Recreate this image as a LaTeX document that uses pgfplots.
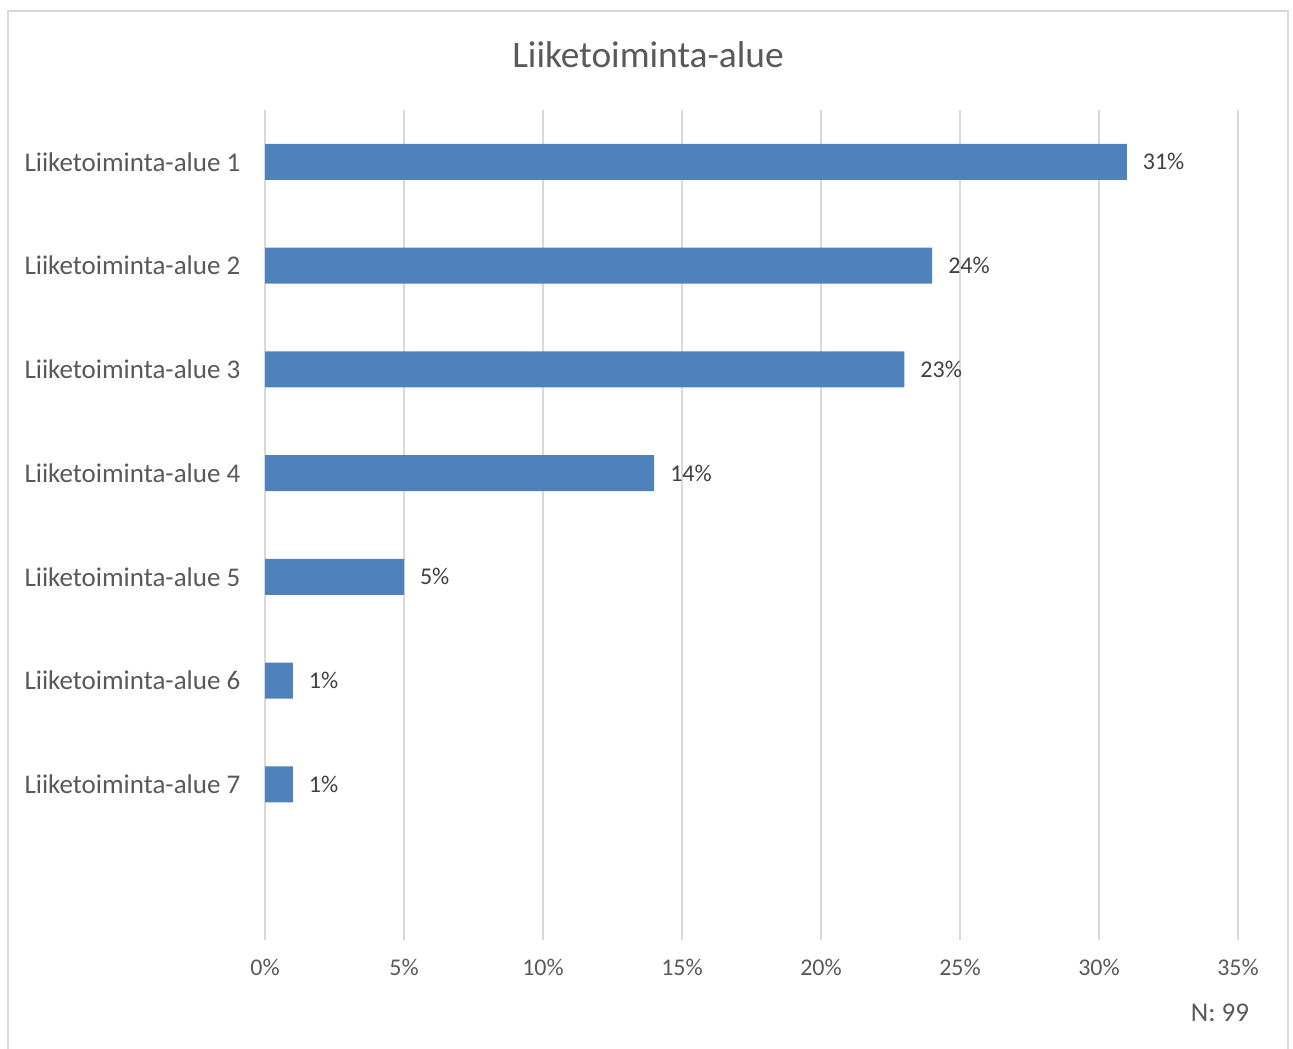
\documentclass[border=0pt]{standalone}
\usepackage{pgfplots}
\pgfplotsset{compat=1.18}
\usepackage{fontspec}
\setmainfont{Carlito}
\definecolor{barblue}{HTML}{4F81BD}
\definecolor{gridgray}{HTML}{D9D9D9}
\definecolor{ticktext}{HTML}{595959}
\definecolor{labeltext}{HTML}{404040}
\begin{document}
\begin{tikzpicture}
\useasboundingbox (0,0) rectangle (646.5pt,-524pt);
\draw[gridgray, line width=1pt] (4pt,-530pt) -- (4pt,-5.5pt) -- (644pt,-5.5pt) -- (644pt,-530pt);
\begin{axis}[
  at={(132.5pt,-470pt)}, anchor=south west,
  scale only axis, width=486.5pt, height=415pt,
  xbar, bar width=18pt,
  xmin=0, xmax=35, ymin=0.5, ymax=8.5,
  y dir=reverse,
  xtick={0,5,...,35},
  xticklabels={0\%,5\%,10\%,15\%,20\%,25\%,30\%,35\%},
  ytick={1,...,7},
  yticklabels={Liiketoiminta-alue 1,Liiketoiminta-alue 2,Liiketoiminta-alue 3,Liiketoiminta-alue 4,Liiketoiminta-alue 5,Liiketoiminta-alue 6,Liiketoiminta-alue 7},
  axis line style={draw=none},
  major tick length=0pt,
  xmajorgrids, grid style={gridgray, line width=1pt},
  tick label style={text=ticktext},
  xticklabel style={font=\fontsize{12}{14}\selectfont, yshift=-6pt},
  yticklabel style={font=\fontsize{13.5}{16}\selectfont, xshift=-8.8pt},
  /pgf/number format/assume math mode=true,
  point meta=x,
  nodes near coords={\pgfmathprintnumber{\pgfplotspointmeta}\%},
  nodes near coords style={anchor=west, xshift=4.5pt, font=\fontsize{12}{14}\selectfont, text=labeltext},
  clip=false,
]
\addplot[fill=barblue, draw=none] coordinates {
(31,1) (24,2) (23,3) (14,4) (5,5) (1,6) (1,7)
};
\end{axis}
\node[text=ticktext, font=\fontsize{18.7}{22}\selectfont] at (324pt,-27.5pt) {Liiketoiminta-alue};
\node[anchor=east, text=ticktext, font=\fontsize{13.5}{16}\selectfont] at (628pt,-506.5pt) {N: 99};
\end{tikzpicture}
\end{document}
